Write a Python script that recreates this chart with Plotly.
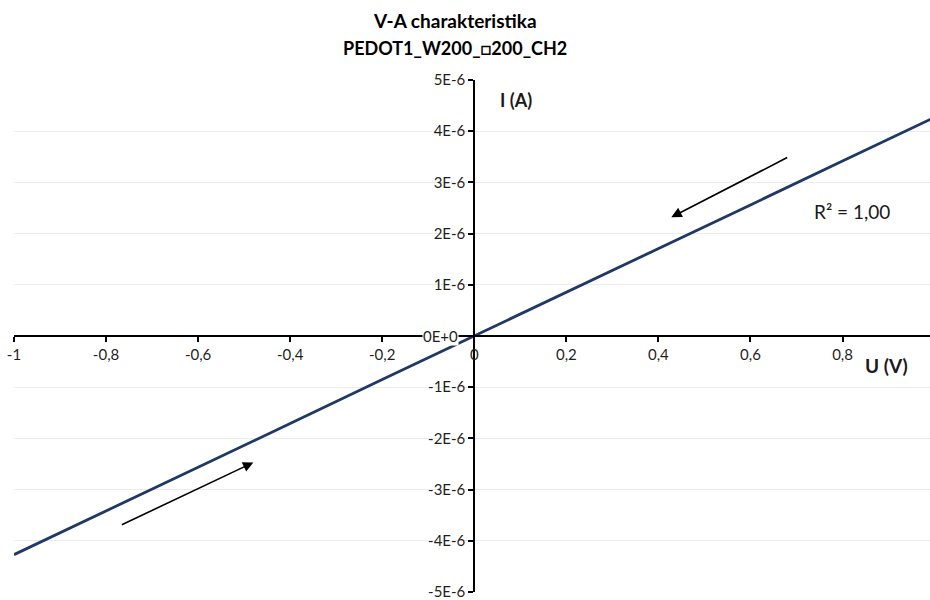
import plotly.graph_objects as go

# Measured sweep data (V, A)
U = [-1.0, -0.8, -0.6, -0.4, -0.2, 0.0, 0.2, 0.4, 0.6, 0.8, 1.0]
I = [-4.27e-6, -3.42e-6, -2.56e-6, -1.71e-6, -0.85e-6, 0.0,
     0.85e-6, 1.71e-6, 2.56e-6, 3.42e-6, 4.27e-6]

x_tickvals = [-1, -0.8, -0.6, -0.4, -0.2, 0, 0.2, 0.4, 0.6, 0.8, 1]
x_ticktext = ["-1", "-0,8", "-0,6", "-0,4", "-0,2", "0", "0,2", "0,4", "0,6", "0,8", "1"]
y_tickvals = [-5e-6, -4e-6, -3e-6, -2e-6, -1e-6, 0, 1e-6, 2e-6, 3e-6, 4e-6, 5e-6]
y_ticktext = ["-5E-6", "-4E-6", "-3E-6", "-2E-6", "-1E-6", "0E+0",
              "1E-6", "2E-6", "3E-6", "4E-6", "5E-6"]

FONT = "Lato"
TOP, BOT, LEFT = 80, 6, 14
PH = 600 - TOP - BOT
PW = 930 - LEFT
TICKCOL = "#1f1f1f"
XMAX = 0.99

def py(p):  # pixel y -> paper fraction
    return (600 - BOT - p) / PH

def px(p):
    return (p - LEFT) / PW

fig = go.Figure()
fig.add_trace(go.Scatter(x=U, y=I, mode="lines",
                         line=dict(color="#1f3864", width=2.8),
                         showlegend=False, hoverinfo="skip", cliponaxis=True))

# zero label drawn separately with white backing (it sits on the x axis line)
y_ticktext_shown = [t if v != 0 else "" for v, t in zip(y_tickvals, y_ticktext)]

fig.update_layout(
    width=930, height=600,
    margin=dict(l=LEFT, r=0, t=TOP, b=BOT),
    paper_bgcolor="white", plot_bgcolor="white",
    font=dict(family=FONT, size=15, color=TICKCOL),
    xaxis=dict(range=[-1, XMAX], tickvals=x_tickvals, ticktext=x_ticktext,
               showgrid=False, zeroline=False,
               showline=True, linecolor="black", linewidth=2,
               anchor="free", position=0.5,
               ticks="outside", ticklen=5, tickcolor="black", tickwidth=2,
               ticklabeloverflow="allow",
               tickfont=dict(size=15, family=FONT, color=TICKCOL)),
    yaxis=dict(range=[-5e-6, 5e-6], tickvals=y_tickvals, ticktext=y_ticktext_shown,
               showgrid=True, gridcolor="#ececec", gridwidth=1,
               zeroline=False,
               showline=True, linecolor="black", linewidth=2,
               anchor="free", position=1 / (1 + XMAX),
               ticks="outside", ticklen=5, tickcolor="black", tickwidth=2,
               ticklabeloverflow="allow",
               tickfont=dict(size=15, family=FONT, color=TICKCOL)),
)

annotations = [
    dict(text=y_ticktext[5], x=-0.02, xref="x", yref="y", y=y_tickvals[5],
         xshift=-6, showarrow=False, xanchor="right", yanchor="middle", bgcolor="white",
         borderpad=0, font=dict(size=15, family=FONT, color=TICKCOL)),
    dict(text="<b>V-A charakteristika</b>", xref="paper", yref="paper",
         x=px(455), y=py(20), showarrow=False,
         font=dict(size=19, family=FONT, color="black"), xanchor="center", yanchor="middle"),
    dict(text="<b>PEDOT1_W200_□200_CH2</b>", xref="paper", yref="paper",
         x=px(455), y=py(48), showarrow=False,
         font=dict(size=18, family=FONT, color="black"), xanchor="center", yanchor="middle"),
    dict(text="<b>I (A)</b>", xref="x", yref="y", x=0.09, y=4.6e-6, showarrow=False,
         font=dict(size=18, family=FONT, color="#1a1a1a"), xanchor="center", yanchor="middle"),
    dict(text="<b>U (V)</b>", xref="x", yref="y", x=0.895, y=-0.58e-6, showarrow=False,
         font=dict(size=19, family=FONT, color="#1a1a1a"), xanchor="center", yanchor="middle"),
    dict(text="R² = 1,00", xref="x", yref="y", x=0.82, y=2.43e-6, showarrow=False,
         font=dict(size=19, family=FONT, color="#1a1a1a"), xanchor="center", yanchor="middle"),
    dict(x=0.428, y=2.32e-6, ax=0.683, ay=3.50e-6, xref="x", yref="y",
         axref="x", ayref="y", text="", showarrow=True, arrowhead=2,
         arrowsize=1.3, arrowwidth=1.6, arrowcolor="black"),
    dict(x=-0.480, y=-2.47e-6, ax=-0.769, ay=-3.70e-6, xref="x", yref="y",
         axref="x", ayref="y", text="", showarrow=True, arrowhead=2,
         arrowsize=1.3, arrowwidth=1.6, arrowcolor="black"),
]
fig.update_layout(annotations=annotations)

fig.write_html("out.html")
